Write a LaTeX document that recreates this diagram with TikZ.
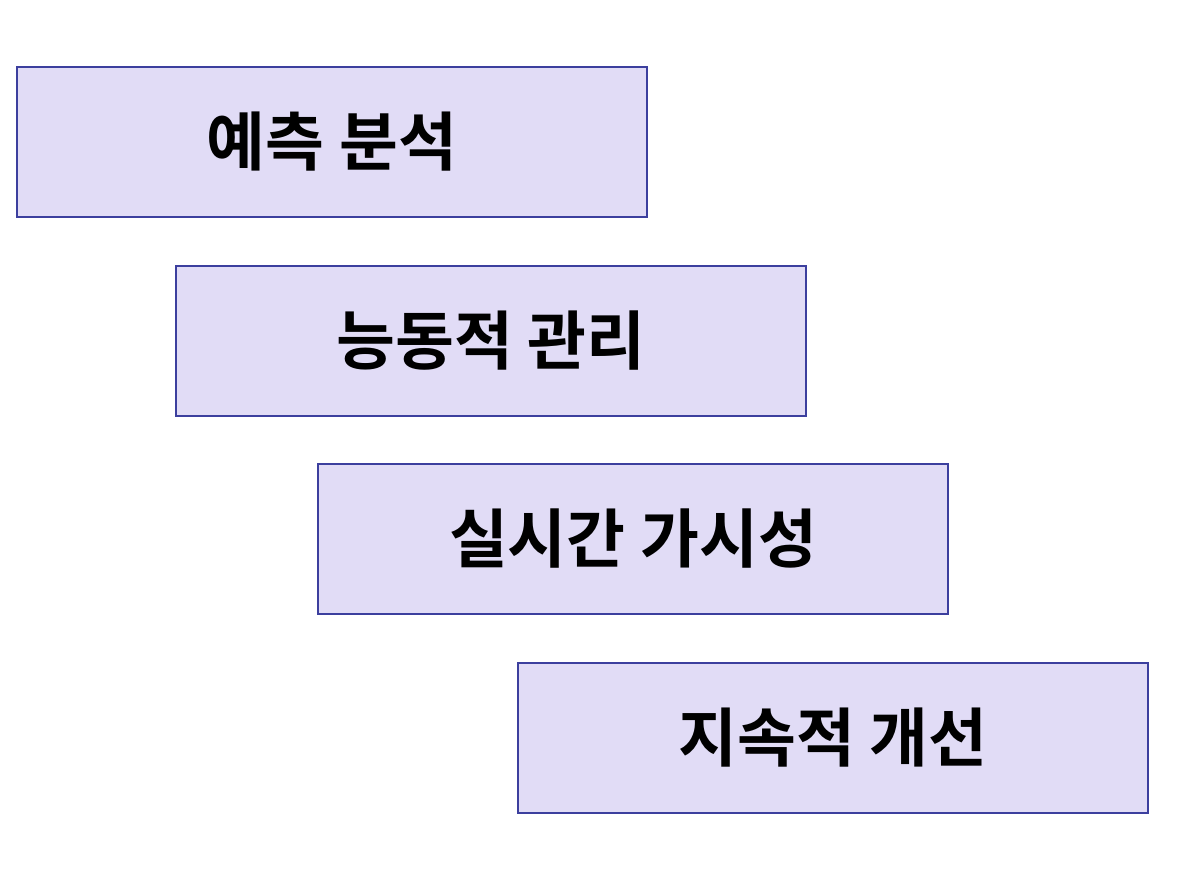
\documentclass[tikz,border=0pt]{standalone}
\usepackage{fontspec}
\newfontfamily\kr{Noto Sans CJK KR}[BoldFont={* Bold}]
\definecolor{boxfill}{HTML}{E1DCF6}
\definecolor{boxline}{HTML}{3C3F9E}
\begin{document}
\begin{tikzpicture}[x=1pt,y=1pt,
    stage/.style={draw=boxline, line width=1.6pt, fill=boxfill,
        minimum width=630pt, minimum height=150pt,
        font=\kr\bfseries\fontsize{64}{70}\selectfont}]
    \useasboundingbox[fill=white] (0,0) rectangle (1193,-896);
    \node[stage] (predict) at (332,-142) {예측 분석};
    \node[stage] (manage) at (491,-341) {능동적 관리};
    \node[stage] (visible) at (633,-539) {실시간 가시성};
    \node[stage] (improve) at (833,-738) {지속적 개선};
\end{tikzpicture}
\end{document}
